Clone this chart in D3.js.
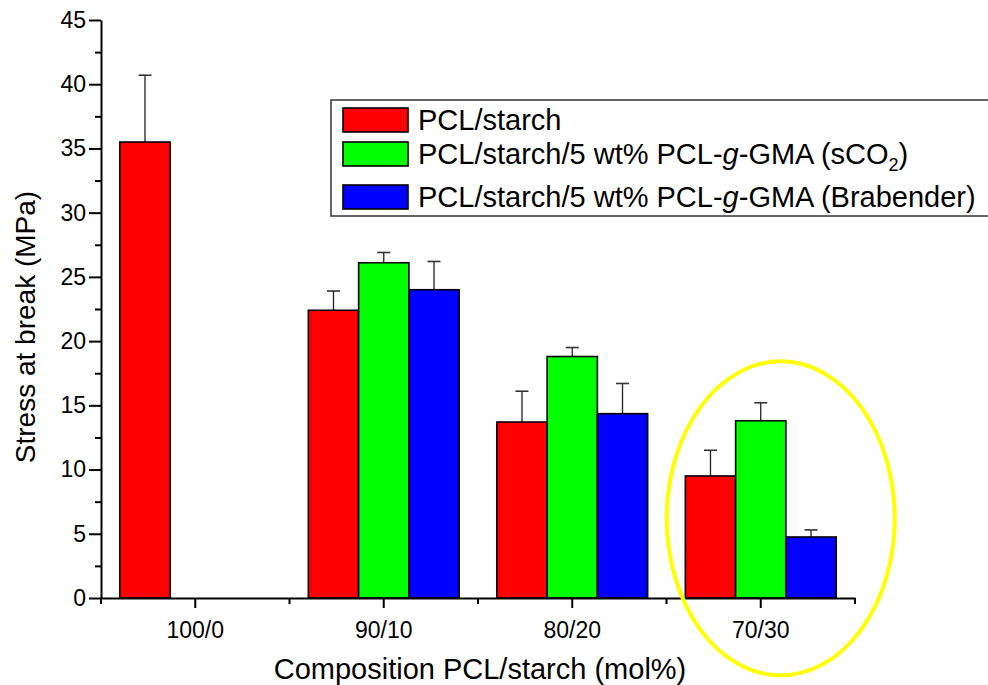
<!DOCTYPE html>
<html>
<head>
<meta charset="utf-8">
<script src="https://cdn.jsdelivr.net/npm/d3@7"></script>
<style>
  html, body { margin: 0; padding: 0; background: #fff; }
  svg { display: block; font-family: "Liberation Sans", Arial, sans-serif; }
</style>
</head>
<body>
<svg id="chart" width="988" height="685"></svg>
<script>
// Composition groups (PCL/starch, mol%)
const categories = ["100/0", "90/10", "80/20", "70/30"];
const seriesKeys = ["plain", "sco2", "brabender"];
const seriesColors = ["#ff0000", "#00ff00", "#0000ff"];

// Stress at break (MPa), mean values and +error per composition
const stressPlain     = [35.5, 22.4, 13.7, 9.5];
const stressSco2      = [null, 26.1, 18.8, 13.8];
const stressBrabender = [null, 24.0, 14.35, 4.75];
const errPlain        = [5.2, 1.5, 2.4, 2.0];
const errSco2         = [null, 0.8, 0.7, 1.4];
const errBrabender    = [null, 2.2, 2.35, 0.55];

const yTicks = [0, 5, 10, 15, 20, 25, 30, 35, 40, 45];
const yMinorTicks = [2.5, 7.5, 12.5, 17.5, 22.5, 27.5, 32.5, 37.5, 42.5];

const values = [stressPlain, stressSco2, stressBrabender];
const errors = [errPlain, errSco2, errBrabender];

const svg = d3.select("#chart");
const FONT = '"Liberation Sans", Arial, sans-serif';

const x0 = d3.scaleBand().domain(categories).range([101, 855])
  .paddingInner(0.2).paddingOuter(0.1);
const x1 = d3.scaleBand().domain(seriesKeys).range([0, x0.bandwidth()]);
const y = d3.scaleLinear().domain([0, 45]).range([598, 20]);

// flatten into drawable records
const records = [];
categories.forEach((c, i) => {
  seriesKeys.forEach((k, j) => {
    const v = values[j][i];
    if (v == null) return;
    records.push({ cat: c, key: k, color: seriesColors[j], value: v, err: errors[j][i] });
  });
});

// error bars (upper half only)
const eb = svg.append("g");
records.forEach(d => {
  const cx = x0(d.cat) + x1(d.key) + x1.bandwidth() / 2;
  const yt = y(d.value + d.err);
  eb.append("line").attr("x1", cx).attr("x2", cx)
    .attr("y1", y(d.value)).attr("y2", yt)
    .attr("stroke", "#222").attr("stroke-width", 1.3);
  eb.append("line").attr("x1", cx - 6.5).attr("x2", cx + 6.5)
    .attr("y1", yt).attr("y2", yt)
    .attr("stroke", "#333").attr("stroke-width", 1.6);
});

// bars
svg.append("g").selectAll("rect").data(records).join("rect")
  .attr("x", d => x0(d.cat) + x1(d.key))
  .attr("y", d => y(d.value))
  .attr("width", x1.bandwidth())
  .attr("height", d => y(0) - y(d.value))
  .attr("fill", d => d.color)
  .attr("stroke", "#000")
  .attr("stroke-width", 1.6);

// y axis
const yAxis = svg.append("g").attr("transform", "translate(101,0)")
  .call(d3.axisLeft(y).tickValues(yTicks).tickSize(12).tickSizeOuter(0).tickPadding(3));
yAxis.select(".domain").attr("stroke-width", 2);
yAxis.selectAll(".tick line").attr("stroke-width", 2);
yAxis.selectAll(".tick text").attr("font-family", FONT).attr("font-size", 23).attr("fill", "#000");
svg.append("g").attr("transform", "translate(101,0)")
  .call(d3.axisLeft(y).tickValues(yMinorTicks).tickSize(6).tickSizeOuter(0).tickFormat(""))
  .call(g => g.select(".domain").remove())
  .selectAll(".tick line").attr("stroke-width", 2);

// x axis
const xAxis = svg.append("g").attr("transform", "translate(0,598)")
  .call(d3.axisBottom(x0).tickSize(10).tickSizeOuter(0).tickPadding(14));
xAxis.select(".domain").attr("stroke-width", 2);
xAxis.selectAll(".tick line").attr("stroke-width", 2);
xAxis.selectAll(".tick text").attr("font-family", FONT).attr("font-size", 23).attr("fill", "#000");
// minor ticks on category boundaries
const bounds = d3.range(categories.length + 1).map(k => x0.range()[0] + k * x0.step());
svg.append("g").selectAll("line").data(bounds).join("line")
  .attr("x1", d => d).attr("x2", d => d)
  .attr("y1", 598).attr("y2", 604)
  .attr("stroke", "#000").attr("stroke-width", 2);

// axis titles
svg.append("text")
  .attr("x", 480).attr("y", 679)
  .attr("text-anchor", "middle")
  .attr("font-family", FONT).attr("font-size", 29)
  .text("Composition PCL/starch (mol%)");
svg.append("text")
  .attr("transform", "translate(35,327) rotate(-90)")
  .attr("text-anchor", "middle")
  .attr("font-family", FONT).attr("font-size", 28)
  .text("Stress at break (MPa)");

// highlight around the 70/30 group
svg.append("ellipse")
  .attr("cx", x0("70/30") + x0.bandwidth() / 2 + 20)
  .attr("cy", y(6.2))
  .attr("rx", 114).attr("ry", 157)
  .attr("fill", "none")
  .attr("stroke", "#ffff00")
  .attr("stroke-width", 4);

// legend
const legend = svg.append("g");
legend.append("rect")
  .attr("x", 331).attr("y", 100).attr("width", 700).attr("height", 116)
  .attr("fill", "#fff").attr("stroke", "#333").attr("stroke-width", 1.5);
const swatchY = [108, 142, 185];
const labelY = [130, 164, 207];
seriesKeys.forEach((k, j) => {
  legend.append("rect")
    .attr("x", 343).attr("y", swatchY[j]).attr("width", 65).attr("height", 24)
    .attr("fill", seriesColors[j]).attr("stroke", "#000").attr("stroke-width", 1.6);
  const t = legend.append("text")
    .attr("x", 418).attr("y", labelY[j])
    .attr("font-family", FONT).attr("font-size", 29).attr("fill", "#000");
  if (j === 0) {
    t.text("PCL/starch");
  } else {
    t.append("tspan").text("PCL/starch/5 wt% PCL-");
    t.append("tspan").attr("font-style", "italic").text("g");
    if (j === 1) {
      t.append("tspan").text("-GMA (sCO");
      t.append("tspan").attr("font-size", 18).attr("dy", 7).text("2");
      t.append("tspan").attr("dy", -7).text(")");
    } else {
      t.append("tspan").text("-GMA (Brabender)");
    }
  }
});
</script>
</body>
</html>
